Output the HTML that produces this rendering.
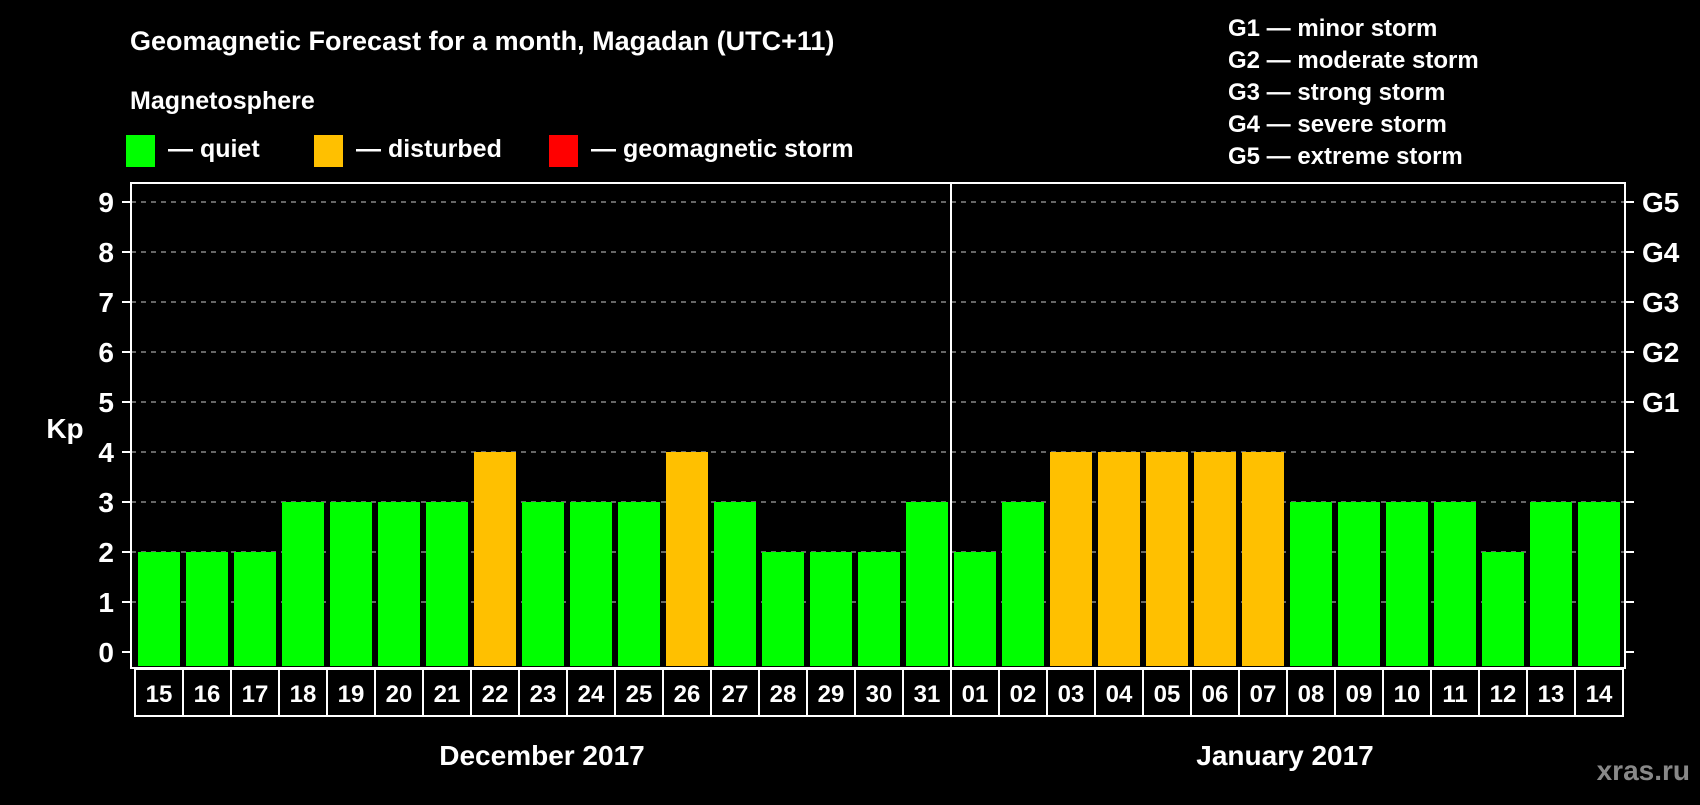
<!DOCTYPE html>
<html><head><meta charset="utf-8"><style>
body{margin:0;background:#000;width:1700px;height:800px;overflow:hidden;font-family:"Liberation Sans",sans-serif;font-weight:bold;color:#fff}
text{font-family:"Liberation Sans",sans-serif;font-weight:bold}
</style></head><body>
<svg id="c" width="1700" height="800" xmlns="http://www.w3.org/2000/svg">
<text x="130" y="50" font-size="27" fill="#fff">Geomagnetic Forecast for a month, Magadan (UTC+11)</text>
<text x="130" y="109" font-size="25" fill="#fff">Magnetosphere</text>
<g><rect x="126" y="135" width="29" height="32" fill="#00ff00"/><text x="168" y="157" font-size="25" fill="#fff">— quiet</text></g>
<g><rect x="314" y="135" width="29" height="32" fill="#ffc000"/><text x="356" y="157" font-size="25" fill="#fff">— disturbed</text></g>
<g><rect x="549" y="135" width="29" height="32" fill="#ff0000"/><text x="591" y="157" font-size="25" fill="#fff">— geomagnetic storm</text></g>
<g font-size="24" fill="#fff">
<text x="1228" y="36">G1 — minor storm</text>
<text x="1228" y="68">G2 — moderate storm</text>
<text x="1228" y="100">G3 — strong storm</text>
<text x="1228" y="132">G4 — severe storm</text>
<text x="1228" y="164">G5 — extreme storm</text>
</g>
<text x="65" y="438" font-size="28" fill="#fff" text-anchor="middle">Kp</text>
<text x="542" y="765" font-size="28" fill="#fff" text-anchor="middle">December 2017</text>
<text x="1285" y="765" font-size="28" fill="#fff" text-anchor="middle">January 2017</text>
<text x="1690" y="780" font-size="28" fill="#888" text-anchor="end">xras.ru</text>
<g id="plot"></g>
</svg>
<script>
const days=["15","16","17","18","19","20","21","22","23","24","25","26","27","28","29","30","31","01","02","03","04","05","06","07","08","09","10","11","12","13","14"];
const kpValues=[2,2,2,3,3,3,3,4,3,3,3,4,3,2,2,2,3,2,3,4,4,4,4,4,3,3,3,3,2,3,3];
const yTicks=[0,1,2,3,4,5,6,7,8,9];
const gLabels=["G1","G2","G3","G4","G5"];
const monthSplit=17;
const NS="http://www.w3.org/2000/svg";
const plot=document.getElementById('plot');
const L=131,R=1625,T=183,B=668,x0=135,step=48,bw=42;
const y=v=>652-v*50;
const x=i=>x0+i*step;
function mk(tag,attrs){const e=document.createElementNS(NS,tag);for(const k in attrs)e.setAttribute(k,attrs[k]);plot.appendChild(e);return e;}
yTicks.forEach(v=>{
  if(v>0){const g=mk('line',{x1:L,x2:R,y1:y(v),y2:y(v),stroke:'#888','stroke-width':1.5,'stroke-dasharray':'5,5'});
  
  }
  const t1=mk('line',{x1:122,x2:L,y1:y(v),y2:y(v),stroke:'#fff','stroke-width':2});
  
  
  const t2=mk('line',{x1:R,x2:1634,y1:y(v),y2:y(v),stroke:'#fff','stroke-width':2});
  
  
  const lb=mk('text',{x:114,y:y(v)+10,'font-size':28,fill:'#fff','text-anchor':'end'});lb.textContent=v;
  
  
});
gLabels.forEach((g,i)=>{const lb=mk('text',{x:1642,y:y(5+i)+10,'font-size':28,fill:'#fff'});lb.textContent=g;
  
  });
kpValues.forEach((v,i)=>{
  const r=mk('rect',{x:x(i)+3,y:y(v),width:bw,height:y(0)-y(v)+14,fill:v>=5?'#ff0000':(v>=4?'#ffc000':'#00ff00')});
  
  
  const c=mk('rect',{x:x(i),y:669,width:step,height:47,fill:'none',stroke:'#fff','stroke-width':2});
  
  
  const t=mk('text',{x:x(i)+step/2,y:702,'font-size':24,fill:'#fff','text-anchor':'middle'});t.textContent=days[i];
  
  
});
const fr=mk('rect',{x:L,y:T,width:R-L,height:B-T,fill:'none',stroke:'#fff','stroke-width':2});


const dv=mk('line',{x1:x(monthSplit),x2:x(monthSplit),y1:T,y2:B,stroke:'#fff','stroke-width':2});


</script>
</body></html>
